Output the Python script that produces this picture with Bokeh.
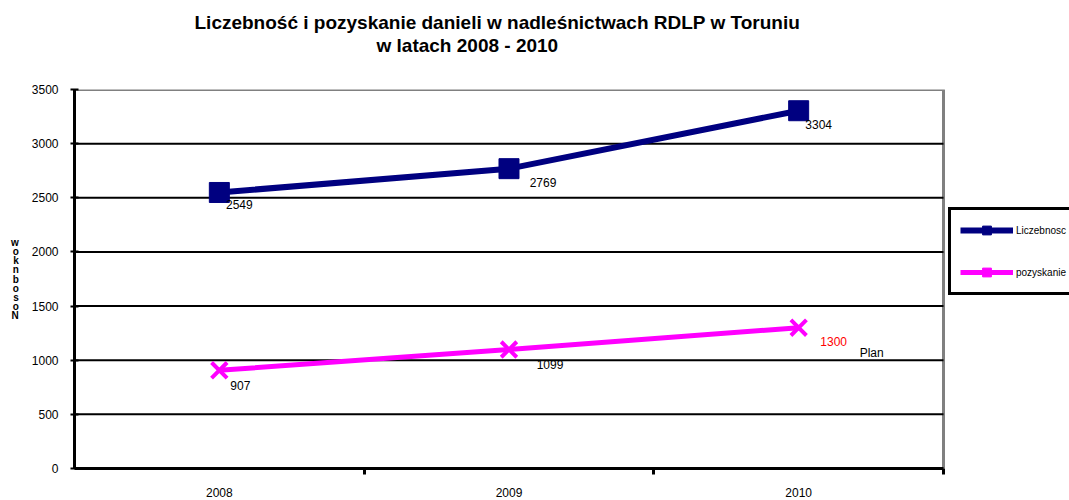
from bokeh.plotting import figure
from bokeh.models import (ColumnDataSource, LabelSet, Legend, LegendItem, LinearAxis,
                          Range1d, FixedTicker, Title, BoxAnnotation)
from bokeh.core.properties import value
from bokeh.embed import file_html
from bokeh.resources import INLINE

# ---- data ----
years = ["2008", "2009", "2010"]
liczebnosc = [2549, 2769, 3304]
pozyskanie = [907, 1099, 1300]
plan_note = "Plan"
y_ticks = [0, 500, 1000, 1500, 2000, 2500, 3000, 3500]
title_lines = ["Liczebność i pozyskanie danieli w nadleśnictwach RDLP w Toruniu",
               "w latach 2008 - 2010"]
y_title = "Nosobnkow"
series_names = ["Liczebnosc", "pozyskanie"]

# ---- styles ----
NAVY = "#000080"
PINK = "#FF00FF"
FONT = "Liberation Sans"
RIGHT_PAD = 0.435   # empty room right of the chart area (holds the legend), in category widths

n = len(years)
centers = [i + 0.5 for i in range(n)]          # category centres on the x scale
boundaries = list(range(1, n + 1))             # tick marks between categories

p = figure(width=1069, height=500, x_range=Range1d(0, n + RIGHT_PAD), y_range=Range1d(0, 3500),
           output_backend="svg", toolbar_location=None, title=None,
           min_border_left=74, min_border_right=0, min_border_top=89, min_border_bottom=32)
p.background_fill_color = "white"
p.border_fill_color = "white"
p.outline_line_color = None
p.xgrid.visible = False
p.ygrid.visible = False

# chart-area border (grey) around the category span
p.add_layout(BoxAnnotation(left=0, right=n, bottom=y_ticks[0], top=y_ticks[-1],
                           fill_color=None, line_color="#808080", line_width=3,
                           line_alpha=1.0, level="underlay"))

# titles (stacked upward from the frame: spacer, line 2, line 1)
spacer = Title(text=" ", text_font_size="10px", standoff=21)
t2 = Title(text=title_lines[1], align="left", offset=302, text_font=FONT,
           text_font_size="19px", text_font_style="bold", text_color="black", standoff=0)
t1 = Title(text=title_lines[0], align="left", offset=120, text_font=FONT,
           text_font_size="19px", text_font_style="bold", text_color="black", standoff=0)
p.add_layout(spacer, "above")
p.add_layout(t2, "above")
p.add_layout(t1, "above")

# y axis
p.yaxis.ticker = FixedTicker(ticks=y_ticks)
p.yaxis.axis_line_width = 3
p.yaxis.axis_line_color = "black"
p.yaxis.major_tick_in = 4
p.yaxis.major_tick_out = 4
p.yaxis.major_tick_line_width = 2
p.yaxis.minor_tick_line_color = None
p.yaxis.major_label_text_font = FONT
p.yaxis.major_label_text_font_size = "12px"
p.yaxis.major_label_text_color = "black"
p.yaxis.major_label_standoff = 12
# axis title: upright letters stacked, read bottom to top
p.yaxis.axis_label = "\n".join(reversed(y_title))
p.yaxis.axis_label_orientation = "horizontal"
p.yaxis.axis_label_text_font = FONT
p.yaxis.axis_label_text_font_size = "10px"
p.yaxis.axis_label_text_font_style = "bold"
p.yaxis.axis_label_text_color = "black"
p.yaxis.axis_label_text_line_height = 0.82
p.yaxis.axis_label_standoff = 10

# x axis line with tick marks between categories
xa = p.xaxis[0]
xa.ticker = FixedTicker(ticks=boundaries)
xa.bounds = (0, n)
xa.axis_line_width = 3
xa.axis_line_color = "black"
xa.major_tick_in = 0
xa.major_tick_out = 6
xa.major_tick_line_width = 3
xa.minor_tick_line_color = None
xa.major_label_text_font_size = "0px"
xa.major_label_text_color = None
xa.major_label_standoff = 0
# category labels
cat_axis = LinearAxis(ticker=FixedTicker(ticks=centers),
                      major_label_overrides={c: y for c, y in zip(centers, years)},
                      axis_line_color=None, major_tick_line_color=None,
                      minor_tick_line_color=None,
                      major_label_text_font=FONT, major_label_text_font_size="12px",
                      major_label_text_color="black", major_label_standoff=7)
p.add_layout(cat_axis, "below")

# horizontal grid lines inside the category span
inner = y_ticks[1:-1]
p.segment(x0=[0] * len(inner), x1=[n] * len(inner), y0=inner, y1=inner,
          line_color="black", line_width=2)

# series
bl = p.line(centers, liczebnosc, color=NAVY, line_width=6)
p.scatter(centers, liczebnosc, marker="square", size=20, color=NAVY)
pl = p.line(centers, pozyskanie, color=PINK, line_width=5)
p.scatter(centers, pozyskanie, marker="x", size=22, line_width=4, color=PINK)

# legend-only markers (not drawn in the plot: y is NaN)
nan = float("nan")
bl_leg = p.scatter([centers[0]], [nan], marker="square", size=8, color=NAVY)
pl_leg = p.scatter([centers[0]], [nan], marker="square", size=8, color=PINK)

# data labels
blue_dx = [20, 34, 20]
blue_dy = [-12, -14, -14]
pink_dx = [21, 41, 35]
pink_dy = [-15, -15, -14]
pink_colors = ["black", "black", "red"]

src_b = ColumnDataSource(dict(x=centers, y=liczebnosc, t=[str(v) for v in liczebnosc],
                              dx=blue_dx, dy=blue_dy))
src_p = ColumnDataSource(dict(x=centers, y=pozyskanie, t=[str(v) for v in pozyskanie],
                              dx=pink_dx, dy=pink_dy, c=pink_colors))
src_n = ColumnDataSource(dict(x=[centers[-1]], y=[pozyskanie[-1]], t=[plan_note]))
common = dict(text_align="center", text_baseline="middle", text_font=value(FONT),
              text_font_size="12px")
p.add_layout(LabelSet(x="x", y="y", text="t", source=src_b, x_offset="dx", y_offset="dy",
                      text_color="black", **common))
p.add_layout(LabelSet(x="x", y="y", text="t", source=src_p, x_offset="dx", y_offset="dy",
                      text_color="c", **common))
p.add_layout(LabelSet(x="x", y="y", text="t", source=src_n, x_offset=73, y_offset=-25,
                      text_color="black", **common))

legend = Legend(items=[LegendItem(label=series_names[0], renderers=[bl, bl_leg]),
                       LegendItem(label=series_names[1], renderers=[pl, pl_leg])],
                location=(874, 173), border_line_color="black", border_line_width=3,
                border_line_alpha=1.0,
                padding=9, spacing=20, glyph_height=22, glyph_width=53, label_standoff=3,
                label_text_font=FONT, label_text_font_size="10px", label_text_color="black",
                margin=0, background_fill_color="white", background_fill_alpha=1.0)
p.add_layout(legend)

open("out.html", "w").write(file_html(p, INLINE))
